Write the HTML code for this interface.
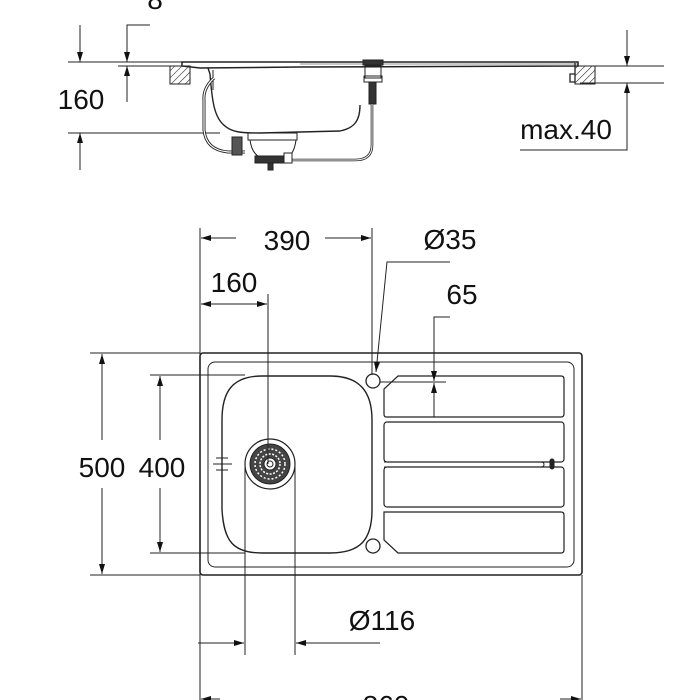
<!DOCTYPE html>
<html><head><meta charset="utf-8"><style>
html,body{margin:0;padding:0;background:#fff;width:700px;height:700px;overflow:hidden}
svg{display:block}
text{font-family:"Liberation Sans",sans-serif;fill:#111}
</style></head><body>
<svg width="700" height="700" viewBox="0 0 700 700" xmlns="http://www.w3.org/2000/svg">
<defs>
<marker id="a" viewBox="0 0 10 6" refX="10" refY="3" markerWidth="10" markerHeight="6" orient="auto-start-reverse" markerUnits="userSpaceOnUse"><path d="M0,0 L10,3 L0,6 z" fill="#111"/></marker>
<pattern id="h" width="5" height="5" patternUnits="userSpaceOnUse" patternTransform="rotate(45)"><line x1="0" y1="0" x2="0" y2="5" stroke="#333" stroke-width="1.2"/></pattern>
</defs>
<g stroke="#222" fill="none" stroke-width="1">
<line x1="68" y1="62" x2="190" y2="62"/>
<line x1="118" y1="66" x2="182" y2="66"/>
<line x1="580" y1="66" x2="664" y2="66"/>
<line x1="580" y1="83" x2="664" y2="83"/>
<line x1="68" y1="133" x2="220" y2="133"/>
<rect x="170" y="66" width="20" height="18" fill="url(#h)" stroke="#222"/>
<rect x="575" y="66" width="20" height="18" fill="url(#h)" stroke="#222"/>
<path d="M182,62 L578,62 L578,66 L300,67 L200,68 L182,66 z" stroke-width="1.5"/>
<line x1="300" y1="64" x2="578" y2="64" stroke-width="0.6"/>
<path d="M575,63 L575,82 L570,82 L570,74 L575,74" stroke-width="1.3"/>
<path d="M208,68 L210,74 C212,100 214,118 225,126 C232,132 240,133 260,133 L340,131 C355,128 360,120 360,105" stroke-width="1.4"/>
<path d="M213,70 L213,90" stroke-width="1"/>
<rect x="363" y="60" width="20" height="5" fill="#333"/>
<rect x="365" y="66" width="16" height="12"/>
<rect x="364" y="76" width="18" height="6"/>
<rect x="369" y="82" width="7" height="22" fill="#333"/>
<path d="M372,104 L372,145 Q372,160 355,160 L290,160" stroke-width="2.6"/>
<path d="M372,104 L372,145 Q372,160 355,160 L290,160" stroke="#fff" stroke-width="1"/>
<path d="M214,78 Q203,88 204,100 L204,130 Q206,150 228,152 L245,152" stroke-width="3"/>
<path d="M214,78 Q203,88 204,100 L204,130 Q206,150 228,152 L245,152" stroke="#fff" stroke-width="1.2"/>
<rect x="232" y="137" width="10" height="18" fill="#555"/>
<path d="M248,133 L297,133 L297,140 L248,140 z"/>
<path d="M250,140 Q252,155 262,158 L286,158 Q294,155 296,140"/>
<rect x="255" y="156" width="30" height="7" fill="#333"/>
<rect x="268" y="163" width="5" height="7" fill="#333"/>
<rect x="284" y="153" width="8" height="10" fill="#fff"/>
<line x1="80" y1="25" x2="80" y2="62" marker-end="url(#a)"/>
<line x1="80" y1="170" x2="80" y2="133" marker-end="url(#a)"/>
<path d="M150,25 L127,25 L127,62" marker-end="url(#a)"/>
<line x1="127" y1="102" x2="127" y2="66" marker-end="url(#a)"/>
<line x1="627" y1="30" x2="627" y2="66" marker-end="url(#a)"/>
<path d="M520,150 L627,150 L627,83" marker-end="url(#a)"/>

<rect x="200" y="353" width="382" height="222" rx="3" stroke-width="1.6"/>
<rect x="208" y="362" width="366" height="205" rx="7" stroke-width="1"/>
<path d="M262,376 L330,376 C360,376 372,392 372,420 L372,510 C372,540 360,553 330,553 L262,553 C232,553 224,540 222,510 L222,420 C222,392 232,376 262,376 z" stroke-width="1.4"/>
<circle cx="270" cy="464" r="25" stroke-width="1.2"/>
<circle cx="270" cy="464" r="20" fill="#444" stroke-width="1"/>
<circle cx="270" cy="464" r="15" fill="none" stroke="#fff" stroke-width="1.5" stroke-dasharray="2 2"/>
<circle cx="270" cy="464" r="10" fill="none" stroke="#fff" stroke-width="1.5" stroke-dasharray="2 1.5"/>
<circle cx="270" cy="464" r="6" fill="#fff"/>
<circle cx="270" cy="464" r="3"/>
<line x1="213" y1="464" x2="232" y2="464"/>
<line x1="216" y1="458" x2="228" y2="458"/>
<line x1="216" y1="470" x2="228" y2="470"/>
<circle cx="373" cy="381" r="7" stroke-width="1.3"/>
<circle cx="373" cy="546" r="7" stroke-width="1.3"/>
<path d="M398,376 L561,376 Q564,376 564,379 L564,414 Q564,417 561,417 L386,417 Q384,417 384,414 L384,389 z" stroke-width="1.2"/>
<rect x="384" y="422" width="180" height="40" rx="3" stroke-width="1.2"/>
<path d="M384,462 L541,462 Q544,462 544,464.5 Q544,467 541,467 L384,467" stroke-width="1"/>
<rect x="384" y="467" width="180" height="40" rx="3" stroke-width="1.2"/>
<path d="M384,512 L561,512 Q564,512 564,515 L564,550 Q564,553 561,553 L398,553 L384,540 z" stroke-width="1.2"/>
<rect x="550" y="459" width="4" height="10" rx="2" fill="#222"/>
<line x1="380" y1="382" x2="446" y2="382"/>
<line x1="200" y1="228" x2="200" y2="700"/>
<line x1="372" y1="228" x2="372" y2="375"/>
<line x1="268" y1="294" x2="268" y2="464"/>
<line x1="236" y1="238" x2="201" y2="238" marker-end="url(#a)"/>
<line x1="325" y1="238" x2="371" y2="238" marker-end="url(#a)"/>
<line x1="201" y1="304" x2="267" y2="304" marker-start="url(#a)" marker-end="url(#a)"/>
<path d="M450,262 L387,262 L376,372" marker-end="url(#a)"/>
<path d="M450,317 L434,317 L434,381" marker-end="url(#a)"/>
<line x1="434" y1="417" x2="434" y2="383" marker-end="url(#a)"/>
<line x1="90" y1="353" x2="200" y2="353"/>
<line x1="90" y1="575" x2="200" y2="575"/>
<line x1="150" y1="375" x2="245" y2="375"/>
<line x1="150" y1="553" x2="245" y2="553"/>
<line x1="102" y1="440" x2="102" y2="354" marker-end="url(#a)"/>
<line x1="102" y1="488" x2="102" y2="574" marker-end="url(#a)"/>
<line x1="160" y1="440" x2="160" y2="376" marker-end="url(#a)"/>
<line x1="160" y1="488" x2="160" y2="552" marker-end="url(#a)"/>
<line x1="582" y1="575" x2="582" y2="700"/>
<line x1="245" y1="464" x2="245" y2="655"/>
<line x1="295" y1="464" x2="295" y2="655"/>
<line x1="198" y1="643" x2="244" y2="643" marker-end="url(#a)"/>
<line x1="380" y1="643" x2="296" y2="643" marker-end="url(#a)"/>
<line x1="220" y1="699" x2="201" y2="699" marker-end="url(#a)"/>
<line x1="560" y1="699" x2="581" y2="699" marker-end="url(#a)"/>
</g>
<g font-size="28" text-anchor="middle">
<text x="155" y="9">8</text>
<text x="81" y="109">160</text>
<text x="566" y="139">max.40</text>
<text x="287" y="250">390</text>
<text x="234" y="292">160</text>
<text x="450" y="249">Ø35</text>
<text x="462" y="304">65</text>
<text x="102" y="477">500</text>
<text x="162" y="477">400</text>
<text x="382" y="630">Ø116</text>
<text x="386" y="715">860</text>
</g>
</svg>
</body></html>
